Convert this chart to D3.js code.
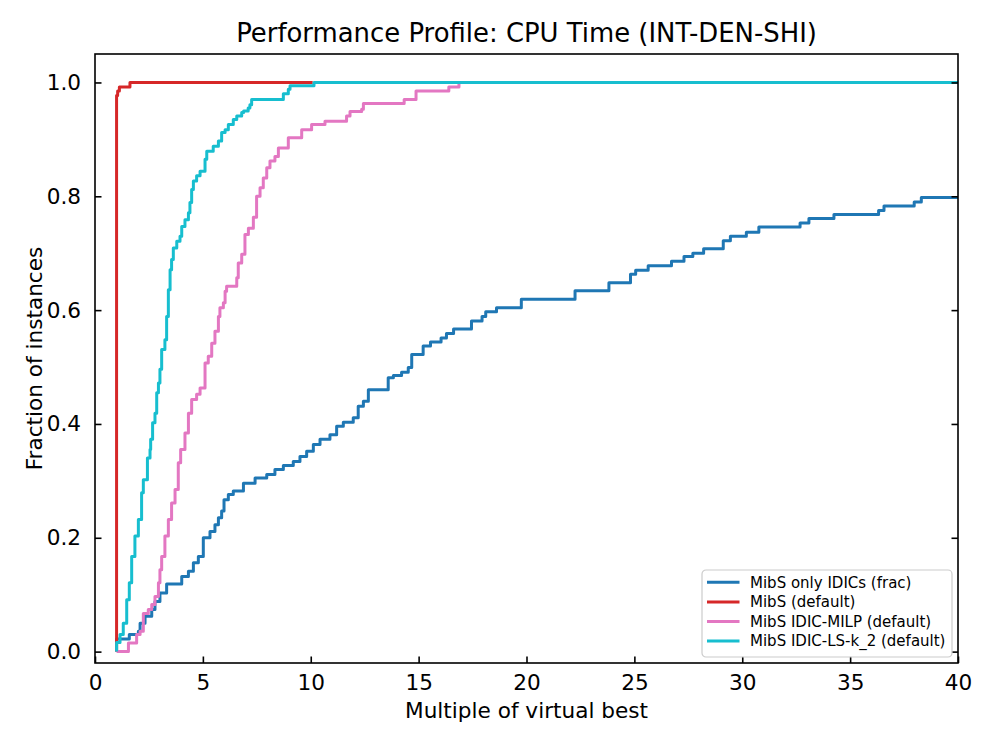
<!DOCTYPE html>
<html>
<head>
<meta charset="utf-8">
<script src="https://cdn.jsdelivr.net/npm/d3@7"></script>
<style>
  body { margin: 0; background: #fff; }
  text { font-family: "DejaVu Sans", sans-serif; fill: #000; }
</style>
</head>
<body>
<svg id="chart" width="996" height="747"></svg>
<script>
// performance profile data, [ratio to virtual best, fraction of instances]
const seriesNames = ["MibS only IDICs (frac)", "MibS (default)", "MibS IDIC-MILP (default)", "MibS IDIC-LS-k_2 (default)"];
const seriesColors = ["#1f77b4", "#d62728", "#e377c2", "#17becf"];

const onlyIdics = [
  [1.0, 0], [1.0, 0.022], [1.59, 0.030], [2.01, 0.036], [2.09, 0.050], [2.32, 0.062], [2.63, 0.074],
  [2.78, 0.088], [3.01, 0.103], [3.32, 0.119], [4.02, 0.132], [4.33, 0.141], [4.56, 0.156], [4.79, 0.167],
  [5.02, 0.200], [5.33, 0.211], [5.56, 0.223], [5.72, 0.235], [5.87, 0.247], [5.98, 0.267], [6.18, 0.276],
  [6.41, 0.282], [6.88, 0.296], [7.42, 0.305], [7.96, 0.311], [8.34, 0.320], [8.73, 0.327], [9.19, 0.334],
  [9.50, 0.343], [9.81, 0.352], [10.12, 0.364], [10.43, 0.373], [10.89, 0.381], [11.20, 0.396], [11.51, 0.403],
  [11.97, 0.411], [12.20, 0.431], [12.44, 0.440], [12.67, 0.460], [13.59, 0.481], [13.83, 0.485], [14.21, 0.491],
  [14.52, 0.499], [14.68, 0.522], [15.21, 0.537], [15.55, 0.544], [16.04, 0.551], [16.29, 0.559], [16.62, 0.567],
  [17.45, 0.581], [17.94, 0.589], [18.11, 0.597], [18.61, 0.604], [19.76, 0.619], [22.25, 0.634], [23.82, 0.648],
  [24.82, 0.663], [25.06, 0.670], [25.64, 0.678], [26.72, 0.686], [27.30, 0.694], [27.71, 0.700], [28.21, 0.708],
  [29.12, 0.722], [29.45, 0.730], [30.19, 0.737], [30.77, 0.746], [32.68, 0.753], [33.09, 0.761], [34.25, 0.768],
  [36.32, 0.775], [36.57, 0.783], [37.97, 0.790], [38.30, 0.798], [40, 0.798]
];

const mibsDefault = [
  [1.0, 0], [1.0, 0.977], [1.05, 0.985], [1.13, 0.992], [1.62, 1.0], [10.09, 1.0]
];

const idicMilp = [
  [1.0, 0], [1.55, 0.015], [1.93, 0.030], [2.09, 0.036], [2.24, 0.067], [2.47, 0.074], [2.63, 0.083],
  [2.78, 0.097], [2.94, 0.121], [3.01, 0.144], [3.09, 0.167], [3.24, 0.203], [3.40, 0.232], [3.55, 0.261],
  [3.71, 0.285], [3.86, 0.332], [3.97, 0.355], [4.17, 0.384], [4.33, 0.419], [4.48, 0.443], [4.71, 0.452],
  [4.87, 0.463], [5.10, 0.507], [5.25, 0.519], [5.41, 0.542], [5.56, 0.563], [5.72, 0.589], [5.79, 0.604],
  [5.95, 0.613], [6.03, 0.633], [6.10, 0.642], [6.57, 0.657], [6.64, 0.683], [6.80, 0.698], [6.95, 0.733],
  [7.11, 0.744], [7.34, 0.763], [7.49, 0.800], [7.65, 0.815], [7.80, 0.832], [7.96, 0.850], [8.11, 0.862],
  [8.34, 0.870], [8.50, 0.885], [8.96, 0.903], [9.58, 0.917], [10.04, 0.926], [10.66, 0.932], [11.66, 0.941],
  [11.82, 0.949], [12.36, 0.953], [12.44, 0.963], [14.33, 0.970], [14.88, 0.985], [16.40, 0.992], [16.87, 1.0]
];

const idicLs = [
  [1.0, 0], [1.0, 0.016], [1.16, 0.030], [1.31, 0.050], [1.47, 0.091], [1.59, 0.121], [1.70, 0.167],
  [1.85, 0.203], [2.01, 0.232], [2.16, 0.279], [2.24, 0.302], [2.43, 0.340], [2.55, 0.355], [2.58, 0.373],
  [2.67, 0.402], [2.78, 0.419], [2.86, 0.455], [2.94, 0.472], [3.01, 0.496], [3.09, 0.531], [3.24, 0.548],
  [3.32, 0.589], [3.40, 0.636], [3.48, 0.671], [3.55, 0.689], [3.63, 0.709], [3.79, 0.721], [3.94, 0.730],
  [4.02, 0.747], [4.17, 0.759], [4.33, 0.771], [4.40, 0.789], [4.48, 0.812], [4.56, 0.827], [4.71, 0.836],
  [4.87, 0.844], [5.10, 0.865], [5.18, 0.879], [5.48, 0.888], [5.72, 0.897], [5.87, 0.912], [6.03, 0.917],
  [6.18, 0.926], [6.41, 0.935], [6.57, 0.941], [6.80, 0.947], [6.89, 0.950], [7.10, 0.955], [7.18, 0.961],
  [7.26, 0.970], [8.73, 0.980], [8.96, 0.988], [9.04, 0.994], [10.15, 1.0], [40, 1.0]
];

const allSeries = [onlyIdics, mibsDefault, idicMilp, idicLs];

const xTicks = [0, 5, 10, 15, 20, 25, 30, 35, 40];
const yTicks = [0, 0.2, 0.4, 0.6, 0.8, 1.0];

const width = 996, height = 747;
const margin = { top: 54, right: 38, bottom: 84, left: 95 };

const svg = d3.select("#chart");

const x = d3.scaleLinear()
    .domain([0, 40])
    .range([margin.left, width - margin.right]);

const y = d3.scaleLinear()
    .domain([-0.02, 1.05])
    .range([height - margin.bottom, margin.top]);

svg.append("defs").append("clipPath")
    .attr("id", "plot-clip")
    .append("rect")
    .attr("x", margin.left)
    .attr("y", margin.top)
    .attr("width", width - margin.left - margin.right)
    .attr("height", height - margin.top - margin.bottom);

// lines
const line = d3.line()
    .x(d => x(d[0]))
    .y(d => y(d[1]))
    .curve(d3.curveStepAfter);

svg.append("g")
    .attr("clip-path", "url(#plot-clip)")
    .selectAll("path")
    .data(allSeries)
    .enter()
    .append("path")
    .attr("fill", "none")
    .attr("stroke", (d, i) => seriesColors[i])
    .attr("stroke-width", 3)
    .attr("stroke-linejoin", "round")
    .attr("d", line);

// axes with ticks pointing inward
const xAxis = svg.append("g")
    .attr("transform", "translate(0," + (height - margin.bottom) + ")")
    .call(d3.axisBottom(x).tickValues(xTicks).tickSizeInner(-6.5).tickSizeOuter(0).tickPadding(12).tickFormat(d3.format("d")));

const yAxis = svg.append("g")
    .attr("transform", "translate(" + margin.left + ",0)")
    .call(d3.axisLeft(y).tickValues(yTicks).tickSizeInner(-6.5).tickSizeOuter(0).tickPadding(14).tickFormat(d3.format(".1f")));

const yRight = svg.append("g")
    .attr("transform", "translate(" + (width - margin.right) + ",0)")
    .call(d3.axisRight(y).tickValues(yTicks).tickSizeInner(-6.5).tickSizeOuter(0).tickFormat(""));

[xAxis, yAxis, yRight].forEach(g => {
    g.select(".domain").remove();
    g.selectAll(".tick line").attr("stroke", "#000").attr("stroke-width", 1.6);
    g.selectAll(".tick text").style("font-size", "21.6px").style("font-family", "DejaVu Sans");
});

// frame
svg.append("rect")
    .attr("x", margin.left)
    .attr("y", margin.top)
    .attr("width", width - margin.left - margin.right)
    .attr("height", height - margin.top - margin.bottom)
    .attr("fill", "none")
    .attr("stroke", "#000")
    .attr("stroke-width", 1.6);

// titles
svg.append("text")
    .attr("x", (margin.left + width - margin.right) / 2)
    .attr("y", 42)
    .attr("text-anchor", "middle")
    .style("font-size", "25.9px")
    .text("Performance Profile: CPU Time (INT-DEN-SHI)");

svg.append("text")
    .attr("x", (margin.left + width - margin.right) / 2)
    .attr("y", 718)
    .attr("text-anchor", "middle")
    .style("font-size", "21.6px")
    .text("Multiple of virtual best");

svg.append("text")
    .attr("transform", "translate(42," + ((margin.top + height - margin.bottom) / 2) + ") rotate(-90)")
    .attr("text-anchor", "middle")
    .style("font-size", "21.6px")
    .text("Fraction of instances");

// legend
const legend = svg.append("g").attr("transform", "translate(702,570)");

legend.append("rect")
    .attr("width", 250)
    .attr("height", 87)
    .attr("rx", 4)
    .attr("fill", "#fff")
    .attr("fill-opacity", 0.8)
    .attr("stroke", "#cccccc")
    .attr("stroke-width", 1.2);

const rows = legend.selectAll(".row")
    .data(seriesNames)
    .enter()
    .append("g")
    .attr("class", "row")
    .attr("transform", (d, i) => "translate(0," + (12.3 + i * 19.6) + ")");

rows.append("line")
    .attr("x1", 5)
    .attr("x2", 37.5)
    .attr("stroke", (d, i) => seriesColors[i])
    .attr("stroke-width", 3);

rows.append("text")
    .attr("x", 48)
    .attr("dy", "0.35em")
    .style("font-size", "15px")
    .text(d => d);
</script>
</body>
</html>
